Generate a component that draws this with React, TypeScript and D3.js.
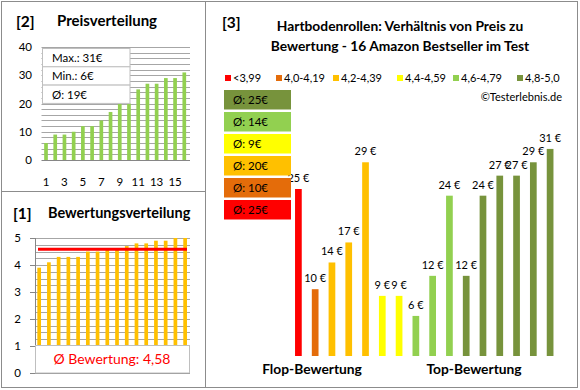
import * as d3 from "d3";

// [2] Preisverteilung (sorted prices)
const priceRanks = d3.range(1, 17).map(String);
const sortedPrices = [6, 9, 9, 10, 12, 12, 14, 17, 20, 20, 25, 27, 27, 29, 29, 31];
const priceTicks = [0, 10, 20, 30, 40];
const priceLabelRanks = ["1", "3", "5", "7", "9", "11", "13", "15"];
const priceStats = ["Max.: 31€", "Min.: 6€", "Ø: 19€"];

// [1] Bewertungsverteilung
const ratings = [3.9, 4.1, 4.3, 4.3, 4.3, 4.5, 4.5, 4.6, 4.6, 4.7, 4.8, 4.8, 4.9, 4.9, 5.0, 5.0];
const ratingTicks = [0, 1, 2, 3, 4, 5];
const avgRating = 4.58;
const avgRatingLabel = "Ø Bewertung: 4,58";

// [3] Preis zu Bewertung
const products = d3.range(16).map(String);
const productPrices = [25, 10, 14, 17, 29, 9, 9, 6, 12, 24, 12, 24, 27, 27, 29, 31];
const productClass = [0, 1, 2, 2, 2, 3, 3, 4, 4, 4, 5, 5, 5, 5, 5, 5];
const classLabels = ["<3,99", "4,0-4,19", "4,2-4,39", "4,4-4,59", "4,6-4,79", "4,8-5,0"];
const classAvg = ["25€", "10€", "20€", "9€", "14€", "25€"];
const classColors = ["#ff0000", "#e46c0a", "#ffc000", "#ffff00", "#92d050", "#77933c"];

const font = "Lato, 'Open Sans', sans-serif";
const grid = "#a6a6a6";
const border = "#8c8c8c";

const App = () => {
  // panel 2 scales
  const x2 = d3.scaleBand().domain(priceRanks).range([41.4, 188.9]).paddingInner(0.6).paddingOuter(0.3);
  const y2 = d3.scaleLinear().domain([0, 40]).range([160, 47]);

  // panel 1 scales
  const x1 = d3.scaleBand().domain(priceRanks).range([34.4, 189.9]).paddingInner(0.62).paddingOuter(0.3);
  const y1 = d3.scaleLinear().domain([0, 5]).range([373, 238]);

  // panel 3 scales
  const x3 = d3.scaleBand().domain(products).range([290, 558.5]).paddingInner(0.6).paddingOuter(0.3);
  const y3 = d3.scaleLinear().domain([0, 35]).range([356, 122.2]);

  const legendX = [225, 276, 333, 397, 453, 517];

  return (
    <div style={{ position: "fixed", left: 0, top: 0 }}>
      <svg width={580} height={390} viewBox="0 0 580 390" style={{ display: "block", fontFamily: font }}>
        <rect x={0} y={0} width={580} height={390} fill="#fff" />

        {/* frames */}
        <rect x={1.5} y={1.5} width={576} height={386} fill="none" stroke={border} />
        <line x1={205.5} x2={205.5} y1={1.5} y2={387.5} stroke={border} />
        <line x1={1.5} x2={205.5} y1={191.5} y2={191.5} stroke={border} />

        {/* ===== [2] Preisverteilung ===== */}
        <text x={16} y={27} fontSize={15.5} fontWeight="bold" fill="#000">[2]</text>
        <text x={57} y={26} fontSize={15} fontWeight="bold" fill="#000">Preisverteilung</text>
        {d3.range(0, 41, 2).map((v) => (
          <line key={v} x1={41.5} x2={190} y1={Math.round(y2(v)) + 0.5} y2={Math.round(y2(v)) + 0.5}
            stroke={v === 0 ? "#868686" : grid} />
        ))}
        {priceTicks.map((v) => (
          <text key={v} x={32} y={y2(v) + 4} fontSize={11.5} textAnchor="end" fill="#000">{v}</text>
        ))}
        {sortedPrices.map((v, i) => (
          <rect key={i} x={x2(priceRanks[i])} y={y2(v)} width={x2.bandwidth()} height={y2(0) - y2(v)} fill="#92d050" />
        ))}
        {priceLabelRanks.map((r) => (
          <text key={r} x={x2(r)! + x2.bandwidth() / 2} y={186} fontSize={11.5} textAnchor="middle" fill="#000">{r}</text>
        ))}
        {priceStats.map((s, i) => (
          <g key={s}>
            <rect x={42.5} y={48.5 + i * 18.3} width={87.5} height={18.3} fill="#fff" stroke="#bfbfbf" />
            <text x={52} y={62 + i * 18.3} fontSize={11.5} fill="#000">{s}</text>
          </g>
        ))}

        {/* ===== [1] Bewertungsverteilung ===== */}
        <text x={13} y={219} fontSize={15.5} fontWeight="bold" fill="#000">[1]</text>
        <text x={48} y={218} fontSize={14.5} fontWeight="bold" fill="#000">Bewertungsverteilung</text>
        {d3.range(0, 5.01, 0.25).map((v) => (
          <line key={v} x1={35} x2={190} y1={Math.round(y1(v)) + 0.5} y2={Math.round(y1(v)) + 0.5}
            stroke={v === 0 ? "#868686" : grid} />
        ))}
        <line x1={35.5} x2={35.5} y1={238} y2={373.5} stroke="#868686" />
        {ratingTicks.map((v) => (
          <g key={v}>
            <line x1={30} x2={35} y1={Math.round(y1(v)) + 0.5} y2={Math.round(y1(v)) + 0.5} stroke="#868686" />
            <text x={21} y={y1(v) + 4} fontSize={11.5} textAnchor="end" fill="#000">{v}</text>
          </g>
        ))}
        {ratings.map((v, i) => (
          <rect key={i} x={x1(priceRanks[i])} y={y1(v)} width={x1.bandwidth()} height={y1(0) - y1(v)} fill="#ffc000" />
        ))}
        <line x1={38} x2={187} y1={y1(avgRating)} y2={y1(avgRating)} stroke="#ff0000" strokeWidth={3} />
        <rect x={35.5} y={345.5} width={154} height={27.5} fill="#fff" stroke="#bfbfbf" />
        <text x={112} y={364} fontSize={14} textAnchor="middle" fill="#ff0000">{avgRatingLabel}</text>

        {/* ===== [3] Preis zu Bewertung ===== */}
        <text x={222} y={28} fontSize={15.5} fontWeight="bold" fill="#000">[3]</text>
        <text x={400} y={31} fontSize={13.8} fontWeight="bold" textAnchor="middle" fill="#000">
          Hartbodenrollen: Verhältnis von Preis zu
        </text>
        <text x={400} y={51} fontSize={13.8} fontWeight="bold" textAnchor="middle" fill="#000">
          Bewertung - 16 Amazon Bestseller im Test
        </text>
        {classLabels.map((l, i) => (
          <g key={l}>
            <rect x={legendX[i]} y={75} width={6} height={6} fill={classColors[i]} />
            <text x={legendX[i] + 8} y={82} fontSize={11} fill="#000">{l}</text>
          </g>
        ))}
        <text x={562} y={101} fontSize={11} textAnchor="end" fill="#000">©Testerlebnis.de</text>

        {productPrices.map((v, i) => (
          <g key={i}>
            <rect x={x3(products[i])} y={y3(v)} width={x3.bandwidth()} height={y3(0) - y3(v)}
              fill={classColors[productClass[i]]} />
            <text x={x3(products[i])! + x3.bandwidth() / 2} y={y3(v) - 7} fontSize={11} textAnchor="middle" fill="#000">
              {v} €
            </text>
          </g>
        ))}

        {classAvg.map((a, i) => {
          const row = classAvg.length - 1 - i;
          const y = 90 + row * 22;
          return (
            <g key={i}>
              <rect x={224} y={y} width={67} height={19.5} fill={classColors[i]} />
              <text x={233} y={y + 14} fontSize={11.5} fill="#000">Ø: {a}</text>
            </g>
          );
        })}

        <text x={312} y={374} fontSize={13.8} fontWeight="bold" textAnchor="middle" fill="#000">Flop-Bewertung</text>
        <text x={474} y={374} fontSize={13.8} fontWeight="bold" textAnchor="middle" fill="#000">Top-Bewertung</text>
      </svg>
    </div>
  );
};

export default App;
